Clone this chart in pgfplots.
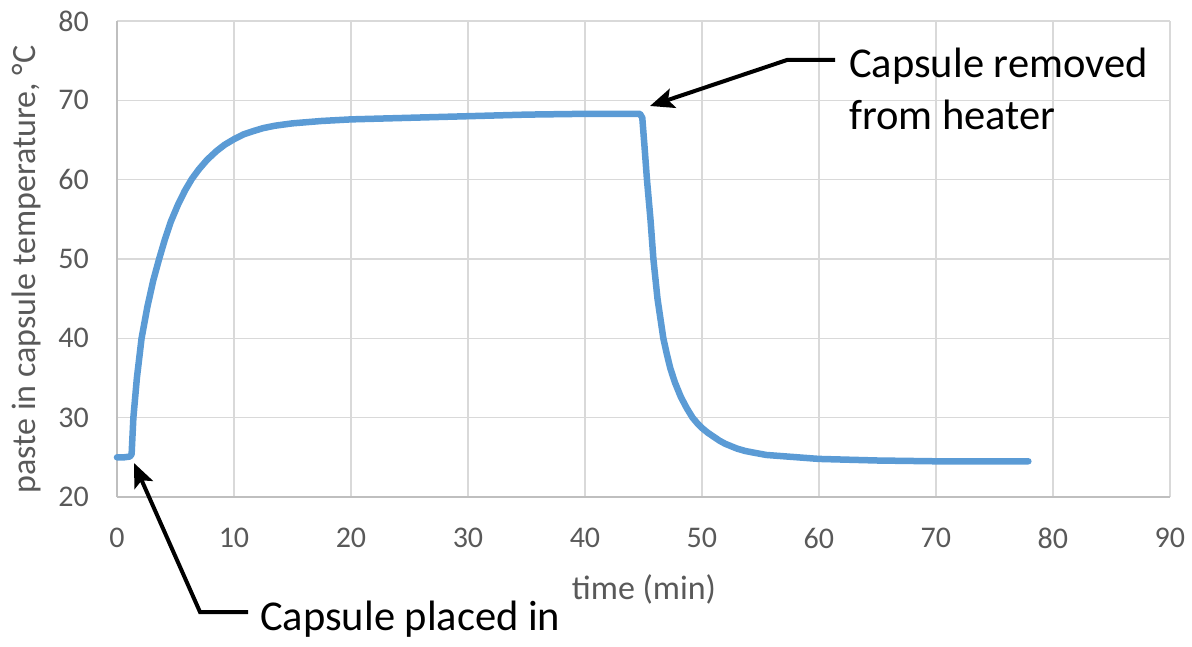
\documentclass[border=0pt]{standalone}
\usepackage{pgfplots}
\pgfplotsset{compat=1.18}
\usepackage{fontspec}
\setmainfont{Carlito}
\usetikzlibrary{arrows.meta}
\definecolor{lineblue}{RGB}{91,155,213}
\definecolor{gridgray}{RGB}{217,217,217}
\definecolor{axisgray}{RGB}{191,191,191}
\definecolor{textgray}{RGB}{89,89,89}
\begin{document}
\begin{tikzpicture}
\useasboundingbox (-117pt,-149pt) rectangle (1075pt,497pt);
\begin{axis}[
  at={(0pt,0pt)}, anchor=south west,
  scale only axis, width=1053pt, height=476pt,
  xmin=0, xmax=90, ymin=20, ymax=80,
  enlargelimits=false,
  xtick={0,10,...,90}, ytick={20,30,...,80},
  axis lines=left, axis line style={draw=axisgray, line width=1.5pt, -},
  grid=major, major grid style={draw=gridgray, line width=1.5pt},
  major tick length=0pt,
  /pgf/number format/assume math mode=true,
  tick label style={font=\fontsize{30}{36}\selectfont, text=textgray, inner sep=0pt},
  x tick label style={anchor=north, yshift=-31pt},
  y tick label style={anchor=east, xshift=-28pt},
  xlabel={time (min)},
  ylabel={paste in capsule temperature, °C},
  every axis x label/.style={at={(axis description cs:0.5005,-0.195)}, anchor=center,
     font=\fontsize{34}{40}\selectfont, text=textgray, inner sep=0pt},
  every axis y label/.style={at={(axis description cs:-0.0864,0.478)}, rotate=90, anchor=center,
     font=\fontsize{34}{40}\selectfont, text=textgray, inner sep=0pt},
  clip=false,
]
\addplot[lineblue, line width=6.5pt, line join=round, line cap=round] coordinates {
(0,25.0) (0.6,25.0) (1.1,25.1) (1.25,25.4) (1.4,30) (1.7,35) (2.1,40)
(2.6,44.0) (3.1,47.3) (3.6,50) (4.1,52.5) (4.6,54.7) (5.2,56.8) (5.8,58.6)
(6.4,60.1) (7.0,61.3) (7.7,62.5) (8.5,63.6) (9.2,64.4) (10,65.1) (10.8,65.7)
(11.6,66.1) (12.5,66.5) (13.5,66.8) (15,67.1) (17.5,67.4) (20,67.6)
(25,67.8) (30,68.0) (35,68.2) (40,68.3) (44.7,68.3) (44.9,67.8) (45.1,64)
(45.3,60) (45.6,55) (45.85,50) (46.2,45) (46.5,42) (46.7,40) (47.0,38)
(47.3,36.2) (47.7,34.4) (48.2,32.6) (48.7,31.2) (49.2,30.0) (49.6,29.3)
(50,28.7) (50.5,28.1) (51,27.6) (51.5,27.1) (52,26.7) (52.5,26.4) (53,26.1)
(53.7,25.8) (54.4,25.6) (55.5,25.3) (57.3,25.1) (60,24.8) (65,24.6) (70,24.5) (77.9,24.5)
};
\end{axis}
\draw[line width=4pt, -{Stealth[length=24pt,width=20pt,inset=5pt]}]
  (131pt,-115pt) -- (83pt,-115pt) -- (17pt,34pt);
\draw[line width=4pt, -{Stealth[length=24pt,width=20pt,inset=5pt]}]
  (718pt,437pt) -- (670pt,437pt) -- (533pt,391pt);
\node[anchor=base west, inner sep=0pt, font=\fontsize{42.5}{51}\selectfont] at (143pt,-133pt) {Capsule placed in};
\node[anchor=base west, inner sep=0pt, font=\fontsize{42.5}{51}\selectfont] at (732pt,419pt) {Capsule removed};
\node[anchor=base west, inner sep=0pt, font=\fontsize{42.5}{51}\selectfont] at (732pt,367pt) {from heater};
\end{tikzpicture}
\end{document}
